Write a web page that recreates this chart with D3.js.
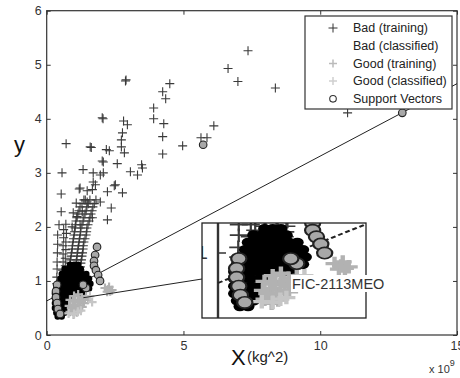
<!DOCTYPE html>
<html><head><meta charset="utf-8">
<script src="https://cdn.jsdelivr.net/npm/d3@7/dist/d3.min.js"></script>
<style>
body{margin:0;background:#fff;}
svg{display:block;font-family:"Liberation Sans",Arial,sans-serif;}
</style></head><body>
<svg id="c" width="460" height="378"></svg>
<script>
const xTicks=[0,5,10,15];
const yTicks=[0,1,2,3,4,5,6];
const legendLabels=["Bad (training)","Bad (classified)","Good (training)","Good (classified)","Support Vectors"];
const insetLabel="FIC-2113MEO";

// Bad (training) : crosses
const badTraining=[[7.36,5.26],[6.63,4.93],[6.99,4.69],[8.36,4.57],[4.50,4.65],[4.24,4.50],[4.35,4.37],[3.91,4.20],[3.91,4.00],[4.28,3.91],[6.11,3.87],[4.24,3.67],[4.24,3.35],[4.97,3.50],[5.64,3.65],[5.86,3.65],[11.0,4.11],
[2.88,4.70],[2.90,4.72],[2.03,4.02],[2.06,4.00],[2.81,3.96],[2.95,3.89],[2.77,3.74],[2.73,3.61],[2.73,3.48],[2.84,3.37],[2.58,3.17],[2.03,3.22],[2.07,3.20],[2.18,3.43],[2.29,3.41],[1.59,3.48],[1.63,3.47],[0.71,3.54],[0.56,3.00],[1.33,3.06],[1.70,3.00],[2.07,3.00],[1.96,2.96],[3.06,3.02],[3.32,2.96],[3.47,3.15],[3.50,3.09],[1.70,2.83],[1.78,2.78],[1.22,2.72],[2.51,2.78],[0.53,2.61],[1.19,2.70],[1.48,2.67],[1.67,2.69],[2.22,2.65],[2.47,2.76],[2.77,2.63],[1.08,2.44],[1.41,2.50],[1.48,2.46],[1.96,2.46],[2.36,2.35],[0.53,2.28],[0.97,2.26],[1.30,2.28],[1.11,2.19],[1.67,2.17],[2.22,2.13],[0.45,2.04],[0.93,2.00],[1.22,2.04],
[0.40,1.85],[0.40,1.68],[0.39,1.52],[0.38,1.35],[0.38,1.22],[0.37,1.07],[0.37,0.95],[0.38,0.85],[0.40,0.75],[0.42,0.65],[0.50,0.88],[0.52,0.72],
[1.36,2.50],[1.58,2.50],[1.80,2.50],[1.22,2.37],[1.47,2.37],[1.69,2.37],[1.14,2.24],[1.40,2.24],[1.62,2.24],[1.07,2.11],[1.33,2.11],[1.55,2.11],[1.04,1.98],[1.25,1.98],[1.47,1.98],[1.00,1.85],[1.22,1.85],[1.44,1.85],[0.96,1.72],[1.18,1.72],[1.36,1.72],[0.93,1.59],[1.14,1.59],[1.33,1.59],[0.89,1.46],[1.11,1.46],[1.29,1.46],[0.85,1.33],[1.07,1.33],[1.25,1.33],[0.82,1.20],[1.04,1.20],[1.22,1.20],[0.78,1.07],[1.00,1.07],
[1.29,2.43],[1.52,2.43],[1.74,2.43],[1.18,2.30],[1.44,2.30],[1.66,2.30],[1.10,2.17],[1.36,2.17],[1.58,2.17],[1.05,2.04],[1.29,2.04],[1.51,2.04],[1.02,1.91],[1.24,1.91],[1.46,1.91],[0.98,1.78],[1.20,1.78],[1.40,1.78],[0.94,1.65],[1.16,1.65],[1.34,1.65],[0.91,1.52],[1.12,1.52],[1.31,1.52],[0.87,1.39],[1.09,1.39],[1.27,1.39],[0.83,1.26],[1.05,1.26],[1.23,1.26],[0.80,1.13],[1.02,1.13],
[0.62,1.95],[0.62,1.80],[0.60,1.65],[0.60,1.50],[0.60,1.35],[0.58,1.20],[0.70,2.05],[0.72,1.88],[0.70,1.72],[0.70,1.58],[0.68,1.42],[0.68,1.28]];

// Bad (classified) : black dots
const badClassified=[[0.85,1.30],[1.00,1.30],[1.15,1.30],
[0.65,1.22],[0.80,1.22],[0.95,1.22],[1.10,1.22],[1.25,1.22],
[0.55,1.13],[0.70,1.13],[0.85,1.13],[1.00,1.13],[1.15,1.13],[1.30,1.13],[1.45,1.13],
[0.50,1.04],[0.65,1.04],[0.80,1.04],[0.95,1.04],[1.10,1.04],[1.25,1.04],[1.40,1.04],[1.55,1.04],
[0.40,0.95],[0.55,0.95],[0.70,0.95],[0.85,0.95],[1.00,0.95],[1.15,0.95],[1.30,0.95],[1.45,0.95],[1.60,0.95],
[0.35,0.86],[0.50,0.86],[0.65,0.86],[0.80,0.86],[0.95,0.86],[1.10,0.86],[1.25,0.86],[1.40,0.86],[1.55,0.86],
[0.30,0.77],[0.45,0.77],[0.60,0.77],[0.75,0.77],[0.90,0.77],[1.05,0.77],[1.20,0.77],[1.35,0.77],
[0.30,0.68],[0.45,0.68],[0.60,0.68],[0.75,0.68],[0.90,0.68],
[0.30,0.59],[0.45,0.59],[0.60,0.59],[0.75,0.59],
[0.30,0.50],[0.45,0.50],[0.60,0.50],[0.75,0.50],
[0.35,0.41],[0.50,0.41],[0.65,0.41],
[0.40,0.34],[0.55,0.34]];

// Good (training) : light grey crosses
const goodTraining=[[2.13,0.87],[2.28,0.89],[2.39,0.83],[2.21,0.80],[2.32,0.81],[2.25,0.84],
[0.85,0.65],[1.00,0.56],[1.14,0.61],[1.29,0.69],[0.93,0.46],[1.07,0.50],[1.22,0.54],[1.36,0.59],[1.44,0.72],[0.82,0.54],[1.51,0.65],[0.85,0.43],
[1.00,0.72],[1.15,0.75],[0.95,0.62],[1.20,0.65],[1.30,0.52],[1.10,0.42],[0.98,0.38],[1.40,0.66],[0.90,0.50],[1.05,0.62]];

// Good (classified) : lighter grey crosses
const goodClassified=[[1.58,0.72],[1.14,0.43],[1.00,0.39],[1.66,0.61],[1.25,0.45],[0.80,0.40]];

// Support vectors
const supportVectors=[[5.72,3.52],[13.0,4.11],[1.84,1.63],[1.77,1.48],[1.73,1.37],[1.73,1.28],[1.80,1.20],[1.88,1.11],[1.95,1.00],[0.38,0.93],[0.34,0.81],[0.34,0.70],[0.38,0.59],[0.41,0.48],[0.49,0.39],[1.44,0.87],[1.33,0.93]];

// Decision boundary
const boundaryX=[0,15];
const boundaryY=[0.63,4.65];
const zoomSource=[1.34,0.69];

const svg=d3.select("#c");
const x=d3.scaleLinear().domain([0,15]).range([46.7,457]);
const y=d3.scaleLinear().domain([0,6]).range([335,10.7]);
const frameC="#333", textC="#222";
const fmt=d=>String(d);

// axes
const gb=svg.append("g").attr("transform",`translate(0,${y(0)})`)
 .call(d3.axisBottom(x).tickValues(xTicks).tickFormat(fmt).tickSize(-4).tickPadding(6));
const gl=svg.append("g").attr("transform",`translate(${x(0)},0)`)
 .call(d3.axisLeft(y).tickValues(yTicks).tickFormat(fmt).tickSize(-4).tickPadding(5));
const gt=svg.append("g").attr("transform",`translate(0,${y(6)})`)
 .call(d3.axisTop(x).tickValues(xTicks).tickSize(-4).tickFormat(""));
const gr=svg.append("g").attr("transform",`translate(${x(15)},0)`)
 .call(d3.axisRight(y).tickValues(yTicks).tickSize(-4).tickFormat(""));
[gb,gl,gt,gr].forEach(g=>{
  g.select(".domain").remove();
  g.selectAll("line").attr("stroke",frameC);
  g.selectAll("text").attr("fill","#333").style("font-size","12.5px").style("font-family","Liberation Sans, Arial, sans-serif");
});
svg.append("rect").attr("x",x(0)).attr("y",y(6)).attr("width",x(15)-x(0)).attr("height",y(0)-y(6))
 .attr("fill","none").attr("stroke",frameC).attr("stroke-width",1.2);

function crossPath(s){return `M${-s},0H${s}M0,${-s}V${s}`;}

function layer(g, inset){
  if(inset){
    g.append("line").attr("x1",x(0)).attr("x2",x(0)).attr("y1",y(6)).attr("y2",y(0)).attr("stroke",frameC).attr("stroke-width",1.2);
    g.append("line").attr("x1",x(0)).attr("x2",x(0)+4).attr("y1",y(1)).attr("y2",y(1)).attr("stroke",frameC);
    g.append("text").attr("x",x(0)-5).attr("y",y(1)).attr("dy","0.35em").attr("text-anchor","end")
     .style("font-size","12px").attr("fill","#333").text("1");
  }
  g.append("line").attr("x1",x(boundaryX[0])).attr("y1",y(boundaryY[0]))
   .attr("x2",x(boundaryX[1])).attr("y2",y(boundaryY[1]))
   .attr("stroke","#222").attr("stroke-width",inset?1.3:1)
   .attr("stroke-dasharray",inset?"2.5,1.5":null);
  g.selectAll(null).data(badTraining).join("path")
   .attr("d",crossPath(4.5)).attr("transform",d=>`translate(${x(d[0])},${y(d[1])})`)
   .attr("stroke","#3a3a3a").attr("stroke-width",1.1).attr("fill","none");
  g.selectAll(null).data(badClassified).join("circle")
   .attr("cx",d=>x(d[0])).attr("cy",d=>y(d[1])).attr("r",3.2).attr("fill","#000");
  g.selectAll(null).data(goodTraining).join("path")
   .attr("d",crossPath(4.5)).attr("transform",d=>`translate(${x(d[0])},${y(d[1])})`)
   .attr("stroke","#b2b2b2").attr("stroke-width",2.2).attr("fill","none");
  g.selectAll(null).data(goodClassified).join("path")
   .attr("d",crossPath(4.5)).attr("transform",d=>`translate(${x(d[0])},${y(d[1])})`)
   .attr("stroke","#c6c6c6").attr("stroke-width",2.2).attr("fill","none");
  g.selectAll(null).data(supportVectors).join("circle")
   .attr("cx",d=>x(d[0])).attr("cy",d=>y(d[1])).attr("r",3.8)
   .attr("fill","#a8a8a8").attr("stroke","#222").attr("stroke-width",1.1);
}
layer(svg.append("g"), false);

// legend
const lg=svg.append("g");
lg.append("rect").attr("x",305).attr("y",16).attr("width",147).attr("height",93)
 .attr("fill","#fff").attr("stroke",frameC).attr("stroke-width",1.2);
legendLabels.forEach((t,i)=>{
  const cy=28+i*17.7, mx=333;
  if(i===0) lg.append("path").attr("d",crossPath(4.5)).attr("transform",`translate(${mx},${cy})`).attr("stroke","#333").attr("fill","none");
  if(i===2) lg.append("path").attr("d",crossPath(4)).attr("transform",`translate(${mx},${cy})`).attr("stroke","#bbb").attr("stroke-width",1.5).attr("fill","none");
  if(i===3) lg.append("path").attr("d",crossPath(4)).attr("transform",`translate(${mx},${cy})`).attr("stroke","#d0d0d0").attr("stroke-width",1.5).attr("fill","none");
  if(i===4) lg.append("circle").attr("cx",mx).attr("cy",cy).attr("r",3.3).attr("fill","#fff").attr("stroke","#333").attr("stroke-width",1.1);
  lg.append("text").attr("x",353).attr("y",cy+4.3).style("font-size","12.5px").attr("fill",textC).text(t);
});

// connector + inset
svg.append("line").attr("x1",x(zoomSource[0])).attr("y1",y(zoomSource[1])).attr("x2",202).attr("y2",279)
 .attr("stroke","#222").attr("stroke-width",1);
const ib={x:202,y:223,w:164,h:95};
svg.append("clipPath").attr("id","ic").append("rect").attr("x",ib.x).attr("y",ib.y).attr("width",ib.w).attr("height",ib.h);
svg.append("rect").attr("x",ib.x).attr("y",ib.y).attr("width",ib.w).attr("height",ib.h).attr("fill","#fff");
const ig=svg.append("g").attr("clip-path","url(#ic)").append("g")
 .attr("transform",`translate(${218-2*x(0)},${253-1.5*y(1)}) scale(2,1.5)`);
layer(ig, true);
svg.append("rect").attr("x",ib.x).attr("y",ib.y).attr("width",ib.w).attr("height",ib.h)
 .attr("fill","none").attr("stroke","#222").attr("stroke-width",1.3);
svg.append("rect").attr("x",291).attr("y",275).attr("width",94).attr("height",17).attr("fill","#fff");
svg.append("text").attr("x",292).attr("y",289).style("font-size","14.5px").attr("fill","#333").text(insetLabel);

// axis titles
svg.append("text").attr("x",14).attr("y",152).style("font-size","22px").attr("fill","#111").text("y");
svg.append("text").attr("x",231).attr("y",365).style("font-size","22px").attr("fill","#111").text("X");
svg.append("text").attr("x",247).attr("y",362).style("font-size","15px").attr("fill","#222").text("(kg^2)");
const ex=svg.append("text").attr("x",429).attr("y",373).style("font-size","11px").attr("fill","#333");
ex.append("tspan").text("x 10");
ex.append("tspan").attr("dy",-7).style("font-size","9px").text("9");
</script></body></html>
